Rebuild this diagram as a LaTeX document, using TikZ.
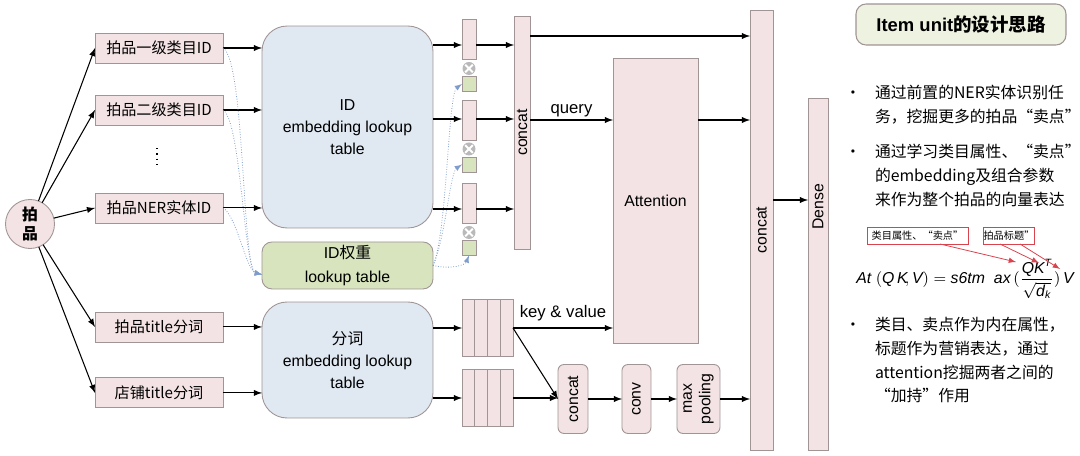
\documentclass[tikz,border=0pt]{standalone}
\usepackage{fontspec}
\setmainfont{Liberation Sans}
\newfontfamily\cjk{Noto Sans CJK SC}
\usepackage{amsmath}
\usetikzlibrary{arrows,positioning,calc}

\definecolor{cellpink}{HTML}{F3E3E4}
\definecolor{tableblue}{HTML}{E0E8F2}
\definecolor{weightgreen}{HTML}{D8E4BE}
\definecolor{titlegreen}{HTML}{EEF2E1}
\definecolor{edgegray}{HTML}{A09494}
\definecolor{dotblue}{HTML}{7E9CCC}
\definecolor{notered}{HTML}{D8434E}

\begin{document}
\begin{tikzpicture}[>=latex, line width=0.6pt, x=0.02cm, y=-0.02cm]
	\tikzstyle{every node}=[inner sep=0pt, outer sep=0pt]
	\tikzstyle{cell}=[draw=edgegray, fill=cellpink, line width=0.5pt]
	\tikzstyle{inbox}=[cell, minimum width=2.56cm, minimum height=0.6cm, font=\cjk\fontsize{8.6}{10}\selectfont]
	\tikzstyle{lookup}=[draw=edgegray, line width=0.5pt, minimum width=3.42cm, align=center, font=\fontsize{9}{12.5}\selectfont]
	\tikzstyle{vec}=[cell, minimum width=0.28cm, minimum height=0.8cm]
	\tikzstyle{weight}=[draw=edgegray, fill=weightgreen, line width=0.5pt, minimum width=0.28cm, minimum height=0.3cm]
	\tikzstyle{mult}=[circle, fill=gray!55, minimum size=0.26cm,
		path picture={\draw[white, line width=1.1pt]
			(path picture bounding box.center) ++(-2.2pt,-2.2pt) -- ++(4.4pt,4.4pt)
			(path picture bounding box.center) ++(-2.2pt,2.2pt) -- ++(4.4pt,-4.4pt);}]
	\tikzstyle{bar}=[cell, font=\fontsize{9}{11}\selectfont]
	\tikzstyle{layer}=[cell, rounded corners=0.12cm, minimum height=1.38cm]
	\tikzstyle{seq}=[cell, minimum width=1.02cm, minimum height=1.15cm]
	\tikzstyle{vtext}=[rotate=90, align=center, font=\fontsize{9}{10.5}\selectfont]
	\tikzstyle{flow}=[->]
	\tikzstyle{wire}=[->, dotblue, densely dotted, line width=0.45pt]
	\tikzstyle{note}=[draw=notered, line width=0.5pt, minimum height=0.34cm, font=\cjk\fontsize{5.8}{7}\selectfont]
	\tikzstyle{point}=[->, notered, line width=0.45pt]
	\tikzstyle{bullets}=[anchor=north west, align=left, font=\cjk\fontsize{9}{13.6}\selectfont]
	\useasboundingbox (0,0) rectangle (1080,456);
	% % Nodes
	% item
	\node[circle, draw=edgegray, fill=cellpink, line width=0.5pt, minimum size=0.98cm,
		align=center, font=\cjk\bfseries\fontsize{9}{10.8}\selectfont] (item) at (30,224) {拍\\品};
	% feature inputs
	\node[inbox] (cat1id) at (159,48) {拍品一级类目ID};
	\node[inbox, below=0.64cm of cat1id] (cat2id) {拍品二级类目ID};
	\node[inbox, below=1.36cm of cat2id] (nerid) {拍品NER实体ID};
	\node[inbox, below=1.78cm of nerid] (title) {拍品title分词};
	\node[inbox, below=0.72cm of title] (shop) {店铺title分词};
	\draw[line width=1pt, dash pattern=on 0.8pt off 2.2pt] (157,148) -- (157,168);
	% lookup tables
	\node[lookup, fill=tableblue, rounded corners=0.5cm, minimum height=4.04cm] (idtab)
		at (347.5,127) {ID\\embedding lookup\\table};
	\node[lookup, fill=weightgreen, rounded corners=0.2cm, minimum height=0.94cm,
		below=0.28cm of idtab, font=\fontsize{9}{13.6}\selectfont] (wtab) {ID{\cjk 权重}\\lookup table};
	\node[lookup, fill=tableblue, rounded corners=0.5cm, minimum height=2.32cm] (segtab)
		at (347.5,360) {{\cjk 分词}\\embedding lookup\\table};
	% id embeddings and weights
	\node[vec] (v1) at (469,39.5) {};
	\node[mult, below=0.05cm of v1] (m1) {};
	\node[weight, below=0.03cm of m1] (w1) {};
	\node[vec] (v2) at (469,120) {};
	\node[mult, below=0.05cm of v2] (m2) {};
	\node[weight, below=0.03cm of m2] (w2) {};
	\node[vec] (v3) at (469,203.5) {};
	\node[mult, below=0.05cm of v3] (m3) {};
	\node[weight, below=0.03cm of m3] (w3) {};
	% concat, attention
	\node[bar, minimum width=0.32cm, minimum height=4.66cm, label={[vtext]center:concat}] (cat1) at (522,132.5) {};
	\node[bar, minimum width=1.7cm, minimum height=5.7cm] (att) at (655.5,200.5) {Attention};
	\node[bar, minimum width=0.46cm, minimum height=8.8cm, label={[vtext]center:concat}] (cat2) at (761.5,230) {};
	\node[bar, minimum width=0.4cm, minimum height=7.04cm] (dense) at (818,274) {};
	\node[vtext] (densetext) at (818,207) {Dense};
	% title sequences
	\node[seq] (kv1) at (487.5,328) {};
	\node[seq] (kv2) at (487.5,398) {};
	\foreach \m in {kv1,kv2}
		\foreach \k in {1,2,3}
			\draw[edgegray, line width=0.5pt] ($(\m.north west)!\k/4!(\m.north east)$) -- ($(\m.south west)!\k/4!(\m.south east)$);
	\node[layer, minimum width=0.6cm, label={[vtext]center:concat}] (cat3) at (573,399) {};
	\node[layer, minimum width=0.58cm, right=0.68cm of cat3, label={[vtext]center:conv}] (conv) {};
	\node[layer, minimum width=0.86cm, right=0.52cm of conv, label={[vtext]center:max\\pooling}] (pool) {};
	% design notes
	\node[draw=edgegray, fill=titlegreen, rounded corners=0.2cm, minimum width=4.2cm, minimum height=0.82cm,
		font=\bfseries\fontsize{10.5}{12}\selectfont] (head) at (961,24.5) {Item unit{\cjk 的设计思路}};
	\node[bullets] (b1) at (875,85)
		{\llap{\textbullet\hspace{0.28cm}}通过前置的NER实体识别任\\务，挖掘更多的拍品“卖点”};
	\node[bullets] (b2) at (875,144)
		{\llap{\textbullet\hspace{0.28cm}}通过学习类目属性、“卖点”\\的embedding及组合参数\\来作为整个拍品的向量表达};
	\node[note, minimum width=2.02cm] (n1) at (917.5,235.5) {类目属性、“卖点”};
	\node[note, minimum width=0.96cm] (n2) at (1009,235.5) {拍品标题”};
	\node[font=\fontsize{9}{11}\selectfont] (formula) at (965,279)
		{$\mathit{At}\;(\mathit{Q}\,\mathit{K}\!,\mathit{V})=\mathit{s6tm}\;\;\mathit{ax}\,(\dfrac{\mathit{QK}^{\mathit{T}}}{\sqrt{\mathit{d}_{\mathit{k}}}})\,\mathit{V}$};
	\node[bullets] (b3) at (875,317)
		{\llap{\textbullet\hspace{0.28cm}}类目、卖点作为内在属性，\\标题作为营销表达，通过\\attention挖掘两者之间的\\“加持”作用};
	% % Connectors
	\foreach \n in {cat1id,cat2id,nerid,title,shop}
		\draw[flow] (item) -- (\n.west);
	\foreach \n in {cat1id,cat2id,nerid}
		\draw[flow] (\n) -- (idtab.west |- \n);
	\foreach \n in {title,shop}
		\draw[flow] (\n) -- (segtab.west |- \n);
	% weight lookups
	\draw[wire] (cat1id.east) .. controls +(22,12) and +(-20,-4) .. ([yshift=-0.18cm]wtab.west);
	\draw[wire] (cat2id.east) .. controls +(18,10) and +(-18,-4) .. ([yshift=-0.18cm]wtab.west);
	\draw[wire] (nerid.east) .. controls +(14,8) and +(-16,-4) .. ([yshift=-0.18cm]wtab.west);
	\draw[wire] (wtab.east) .. controls +(14,-30) and +(-14,10) .. (w1.west);
	\draw[wire] (wtab.east) .. controls +(12,-25) and +(-12,8) .. (w2.west);
	\draw[wire] (wtab.east) .. controls +(18,4) and +(-4,10) .. (w3.south);
	% embeddings to concat
	\coordinate (r0) at (0,36);
	\coordinate (r1) at (0,45);
	\coordinate (r2) at (0,119);
	\coordinate (r3) at (0,209);
	\coordinate (rq) at (0,120);
	\coordinate (rd) at (0,200);
	\foreach \k in {1,2,3} {
		\draw[flow] (idtab.east |- r\k) -- (v\k.west |- r\k);
		\draw[flow] (v\k.east |- r\k) -- (cat1.west |- r\k);
	}
	\draw[flow] (cat1.east |- r0) -- (cat2.west |- r0);
	\draw[flow] (cat1.east |- rq) -- node[above=2pt, font=\fontsize{9.5}{11}\selectfont]{query} (att.west |- rq);
	\draw[flow] (att.east |- rq) -- (cat2.west |- rq);
	\draw[flow] (cat2.east |- rd) -- (dense.west |- rd);
	% title branch
	\draw[flow] (segtab.east |- kv1) -- (kv1);
	\draw[flow] (segtab.east |- kv2) -- (kv2);
	\draw[flow] (kv1.east) -- node[above=4pt, font=\fontsize{9.5}{11}\selectfont]{key \& value} (att.west |- kv1);
	\draw[flow] (kv1.east) -- (cat3.west);
	\draw[flow] (kv2) -- (cat3.west |- kv2);
	\draw[flow] (cat3) -- (conv);
	\draw[flow] (conv) -- (pool);
	\draw[flow] (pool) -- (cat2.west |- pool);
	% formula notes
	\coordinate (tq) at (1016,262);
	\coordinate (tk) at (1039,263);
	\coordinate (tv) at (1060,269);
	\draw[point] ([xshift=0.45cm]n1.south) -- (tq);
	\draw[point] ([xshift=-0.18cm]n2.south) -- (tk);
	\draw[point] ([xshift=0.22cm]n2.south) -- (tv);
\end{tikzpicture}
\end{document}
